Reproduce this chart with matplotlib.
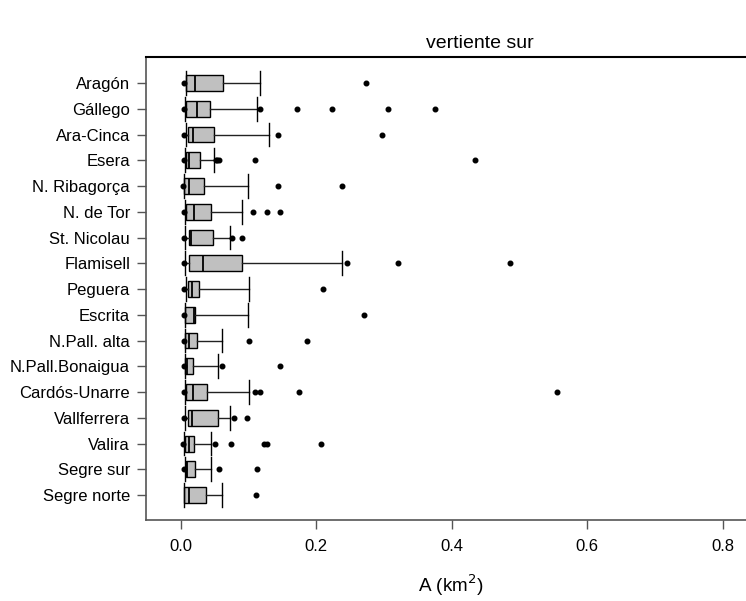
import matplotlib
matplotlib.use("Agg")
import matplotlib.pyplot as plt

plt.rcParams['font.family'] = ['Liberation Sans', 'DejaVu Sans']

categories = ["Aragón", "Gállego", "Ara-Cinca", "Esera", "N. Ribagorça", "N. de Tor",
              "St. Nicolau", "Flamisell", "Peguera", "Escrita", "N.Pall. alta",
              "N.Pall.Bonaigua", "Cardós-Unarre", "Vallferrera", "Valira",
              "Segre sur", "Segre norte"]

whislo = [0.0073, 0.0070, 0.0073, 0.0065, 0.0054, 0.0070, 0.0068, 0.0068, 0.0075,
          0.0065, 0.0058, 0.0065, 0.0068, 0.0070, 0.0054, 0.0065, 0.0049]
q1 = [0.0083, 0.0080, 0.0113, 0.0073, 0.0054, 0.0080, 0.0122, 0.0127, 0.0108,
      0.0068, 0.0060, 0.0068, 0.0080, 0.0103, 0.0068, 0.0073, 0.0049]
med = [0.0210, 0.0236, 0.0187, 0.0127, 0.0127, 0.0200, 0.0160, 0.0334, 0.0172,
       0.0196, 0.0123, 0.0088, 0.0190, 0.0167, 0.0123, 0.0088, 0.0118]
q3 = [0.0630, 0.0430, 0.0487, 0.0285, 0.0350, 0.0450, 0.0477, 0.0910, 0.0266,
      0.0211, 0.0245, 0.0190, 0.0393, 0.0556, 0.0200, 0.0210, 0.0373]
whishi = [0.117, 0.112, 0.130, 0.0487, 0.0998, 0.091, 0.0723, 0.2386, 0.1013,
          0.0998, 0.061, 0.0546, 0.1013, 0.0728, 0.045, 0.045, 0.061]
fliers = [
    [0.0054, 0.274],
    [0.0050, 0.1175, 0.1717, 0.2238, 0.3055, 0.3754],
    [0.0050, 0.143, 0.297],
    [0.0050, 0.052, 0.054, 0.0566, 0.110, 0.434],
    [0.0040, 0.143, 0.2376],
    [0.0050, 0.107, 0.128, 0.1466],
    [0.0050, 0.0757, 0.0905],
    [0.0050, 0.246, 0.320, 0.4856],
    [0.0050, 0.2105],
    [0.0048, 0.271],
    [0.0044, 0.1008, 0.187],
    [0.0044, 0.0614, 0.147],
    [0.0048, 0.110, 0.1166, 0.175, 0.5559],
    [0.0050, 0.0787, 0.0984],
    [0.0034, 0.0506, 0.0738, 0.1225, 0.1274, 0.2066],
    [0.0044, 0.0566, 0.112],
    [0.1107],
]
xticks = [0.0, 0.2, 0.4, 0.6, 0.8]
xticklabels = ["0.0", "0.2", "0.4", "0.6", "0.8"]

stats = []
for i, c in enumerate(categories):
    stats.append(dict(label=c, whislo=whislo[i], q1=q1[i], med=med[i], q3=q3[i],
                      whishi=whishi[i], fliers=fliers[i]))

fig = plt.figure(figsize=(7.46, 6.01), dpi=100)
ax = fig.add_axes([146/746, 1-520/601, 1-146/746, (520-57)/601])

positions = list(range(1, len(categories) + 1))
ax.bxp(stats, positions=positions, vert=False, widths=0.62, capwidths=0.93,
       patch_artist=True, showfliers=True,
       boxprops=dict(facecolor="#c0c0c0", edgecolor="black", linewidth=1.0),
       medianprops=dict(color="black", linewidth=1.3),
       whiskerprops=dict(color="#222222", linewidth=1.0),
       capprops=dict(color="black", linewidth=1.0),
       flierprops=dict(marker="o", markerfacecolor="black", markeredgecolor="black",
                       markersize=3.3, linestyle="none"))

ax.set_xlim(-0.051, 0.834)
ax.set_ylim(17.97, -0.01)
ax.set_yticks(positions)
ax.set_yticklabels(categories, fontsize=12)
ax.set_xticks(xticks)
ax.set_xticklabels(xticklabels, fontsize=12)
ax.tick_params(axis="both", direction="out", length=6.5, width=1.0, color="#555555", pad=5)
ax.tick_params(axis="x", pad=7)

ax.spines["right"].set_visible(False)
ax.spines["top"].set_color("black")
ax.spines["top"].set_linewidth(1.5)
ax.spines["left"].set_color("#555555")
ax.spines["bottom"].set_color("#555555")
ax.spines["left"].set_linewidth(1.2)
ax.spines["bottom"].set_linewidth(1.2)

fig.text(480/746, 1-44/601, "vertiente sur", ha="center", va="center", fontsize=14)
fig.text(451/746, 1-585/601, "A (km$^2$)", ha="center", va="center", fontsize=13.6)

fig.savefig("out.png", dpi=100)
